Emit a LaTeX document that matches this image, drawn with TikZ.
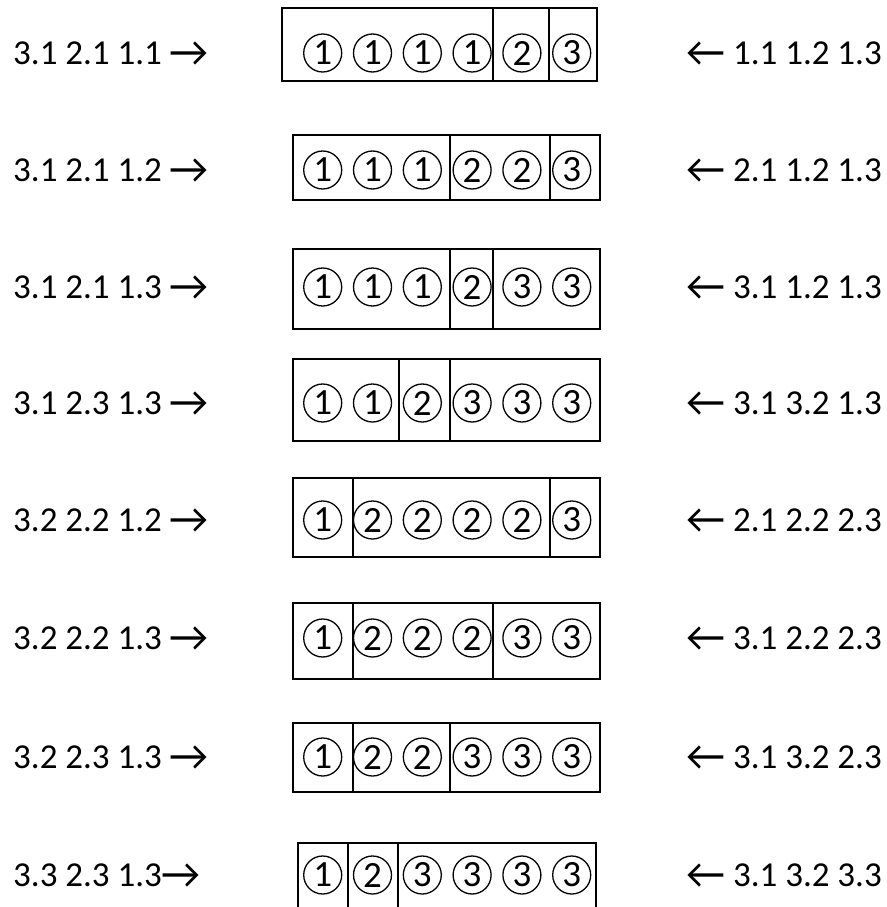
\documentclass[tikz,border=0pt]{standalone}
\usepackage{fontspec}
\setmainfont{Carlito}
\usetikzlibrary{positioning}

\newcommand\toR{{\fontsize{43}{43}\selectfont\raisebox{-2.5pt}{→}}}
\newcommand\toL{{\fontsize{43}{43}\selectfont\raisebox{-2.5pt}{←}}}

\tikzset{
  ball/.style={circle, draw, line width=1.3pt, minimum size=38pt, inner sep=0pt,
    font=\fontsize{37}{37}\selectfont},
  tag/.style={inner sep=0pt, font=\fontsize{35}{35}\selectfont},
  cell/.style={line width=1.6pt}
}

\begin{document}
\begin{tikzpicture}[x=1pt,y=-1pt]
\useasboundingbox (0,0) rectangle (886,907);
% row/circle y/top/bottom/left/right/dividers/numbers/left text/right text
\foreach \r/\yc/\yt/\yb/\xl/\xr/\da/\db/\digs/\lt/\rt in {
  1/53/8/81/282/597/493/549/{1,1,1,1,2,3}/3.1 2.1 1.1 \toR/\toL{} 1.1 1.2 1.3,
  2/170/135/200/293/600/450/550/{1,1,1,2,2,3}/3.1 2.1 1.2 \toR/\toL{} 2.1 1.2 1.3,
  3/287/249/329/293/600/450/493/{1,1,1,2,3,3}/3.1 2.1 1.3 \toR/\toL{} 3.1 1.2 1.3,
  4/403/359/441/293/600/399/450/{1,1,2,3,3,3}/3.1 2.3 1.3 \toR/\toL{} 3.1 3.2 1.3,
  5/520/478/557/293/600/353/550/{1,2,2,2,2,3}/3.2 2.2 1.2 \toR/\toL{} 2.1 2.2 2.3,
  6/638/603/679/293/600/353/493/{1,2,2,2,3,3}/3.2 2.2 1.3 \toR/\toL{} 3.1 2.2 2.3,
  7/757/723/792/293/600/353/450/{1,2,2,3,3,3}/3.2 2.3 1.3 \toR/\toL{} 3.1 3.2 2.3,
  8/875/843/930/298/596/348/398/{1,2,3,3,3,3}/3.3 2.3 1.3\toR/\toL{} 3.1 3.2 3.3}
{
  % box with its dividers
  \draw[cell] (\xl,\yt) rectangle (\xr,\yb);
  \draw[cell] (\da,\yt) -- (\da,\yb) (\db,\yt) -- (\db,\yb);
  % circled numbers
  \foreach \d [count=\i] in \digs
    \node[ball] (c\r-\i) at ({322.7+49.8*(\i-1)},\yc) {\d};
  % labels left and right
  \node[tag, anchor=base west] (in\r) at (13,\yc+11) {\lt};
  \node[tag, anchor=base east] (out\r) at (882,\yc+11) {\rt};
}
\end{tikzpicture}
\end{document}
